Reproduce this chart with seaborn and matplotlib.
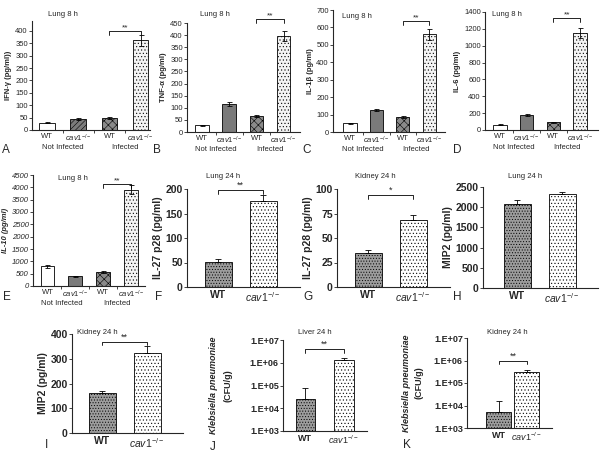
import numpy as np
import pandas as pd
import seaborn as sns
import matplotlib.pyplot as plt

sns.set_style("ticks")
plt.rcParams['font.family'] = ['Liberation Sans', 'DejaVu Sans']
plt.rcParams['hatch.linewidth'] = 0.4
plt.rcParams['mathtext.fontset'] = 'custom'
plt.rcParams['mathtext.it'] = 'Liberation Sans:italic'
plt.rcParams['mathtext.rm'] = 'Liberation Sans'
plt.rcParams['mathtext.bf'] = 'Liberation Sans:bold'

# data
groups4 = ['WT NI', 'cav1 NI', 'WT I', 'cav1 I']
groups2 = ['WT', 'cav1']
ticks4 = ['WT', r'$cav1^{-/-}$', 'WT', r'$cav1^{-/-}$']
ticks2 = ['WT', r'$cav1^{-/-}$']

ifng = [30, 45, 48, 362]
ifng_err = [3, 3, 4, 22]
tnfa = [28, 115, 65, 395]
tnfa_err = [2, 7, 4, 20]
il1b = [50, 125, 85, 560]
il1b_err = [3, 6, 5, 30]
il6 = [65, 175, 90, 1150]
il6_err = [5, 10, 6, 55]
il10 = [800, 400, 560, 3900]
il10_err = [50, 25, 30, 180]

il27_lung = [52, 175]
il27_lung_err = [6, 12]
il27_kidney = [35, 68]
il27_kidney_err = [3, 5]
mip2_lung = [2080, 2330]
mip2_lung_err = [110, 50]
mip2_kidney = [163, 322]
mip2_kidney_err = [5, 28]
kp_liver = [2.5e4, 1.3e6]
kp_liver_err = [5.5e4, 0.4e6]
kp_kidney = [5e3, 3e5]
kp_kidney_err = [1.1e4, 0.8e5]

W, H = 600, 455


def add_ax(fig, l, t, r, b):
    return fig.add_axes([l / W, 1 - b / H, (r - l) / W, (b - t) / H])


def bars(ax, cats, vals, styles, width):
    df = pd.DataFrame({'group': cats, 'value': vals})
    sns.barplot(data=df, x='group', y='value', order=cats, ax=ax, width=width,
                color='white', edgecolor='black', linewidth=0.6, errorbar=None)
    for p, (fc, hatch) in zip(ax.patches, styles):
        p.set_facecolor(fc)
        p.set_hatch(hatch)
    return [p.get_x() + p.get_width() / 2 for p in ax.patches]


def bracket(ax, x0, x1, y, ylow, text, fs):
    ax.plot([x0, x0, x1, x1], [ylow, y, y, ylow], color='black', lw=0.6,
            clip_on=False)
    ax.text((x0 + x1) / 2, y, text, ha='center', va='bottom', fontsize=fs,
            clip_on=False)


def style_ax(ax, fs, bold=False):
    sns.despine(ax=ax)
    for s in ['left', 'bottom']:
        ax.spines[s].set_linewidth(0.8)
    ax.tick_params(axis='y', length=2, width=0.6, labelsize=fs, pad=1)
    ax.tick_params(axis='x', length=0, labelsize=fs, pad=2)
    ax.set_xlabel('')
    if bold:
        for lab in ax.get_xticklabels() + ax.get_yticklabels():
            lab.set_fontweight('bold')


fig = plt.figure(figsize=(6, 4.55), dpi=100)

top_a = [('white', ''), ('#7c7c7c', '//////'), ('#8a8a8a', 'xxxx'),
         ('#f4f4f4', '.....')]
top_b = [('white', ''), ('#7a7a7a', ''), ('#8a8a8a', 'xxxx'),
         ('#f4f4f4', '.....')]
low = [('#9c9c9c', '......'), ('white', '.....')]

# top row (A-D) and E
top_panels = [
    # vals, errs, ylabel, box, xlim, ylim, ystep, styles, bracket y, italic
    (ifng, ifng_err, 'IFN-γ (pg/ml))', (32, 21, 150, 130), (-0.48, 3.3),
     (0, 440), 50, top_a, (400, 385), False),
    (tnfa, tnfa_err, 'TNF-α (pg/ml)', (187, 23, 300, 132), (-0.55, 3.6),
     (0, 450), 50, top_b, (465, 450), False),
    (il1b, il1b_err, 'IL-1β (pg/ml)', (333, 10, 445, 132), (-0.64, 3.6),
     (0, 700), 100, top_b, (637, 615), False),
    (il6, il6_err, 'IL-6 (pg/ml)', (485, 12, 598, 130), (-0.56, 3.67),
     (0, 1400), 200, top_b, (1330, 1285), False),
    (il10, il10_err, 'IL-10 (pg/ml)', (33, 175, 145, 286), (-0.52, 3.5),
     (0, 4500), 500, top_b, (4130, 3990), True),
]
titles_top = [(63, 14), (215, 15), (357, 16), (507, 15), (73, 179)]

for (vals, errs, ylab, box, xlim, ylim, step, sty, br, ital), txy in zip(
        top_panels, titles_top):
    ax = add_ax(fig, *box)
    xs = bars(ax, groups4, vals, sty, 0.5)
    ax.errorbar(xs, vals, yerr=errs, fmt='none', ecolor='black',
                elinewidth=0.6, capsize=1.8, capthick=0.6, zorder=3)
    ax.set_xlim(*xlim)
    ax.set_ylim(*ylim)
    ax.set_yticks(np.arange(0, ylim[1] + 1, step))
    ax.set_xticks(range(4), ticks4)
    ax.set_xticks([0.5, 1.5, 2.5], minor=True)
    style_ax(ax, 5.5)
    ax.tick_params(axis='x', which='minor', length=2.5, width=0.6)
    ax.set_ylabel(ylab, fontsize=5.5, fontweight='bold', labelpad=2,
                  style='italic' if ital else 'normal')
    if ital:
        for lab in ax.get_yticklabels():
            lab.set_fontstyle('italic')
    for xc, g in [(0.5, 'Not Infected'), (2.5, 'Infected')]:
        ax.annotate(g, xy=(xc, 0), xycoords=('data', 'axes fraction'),
                    xytext=(0, -10), textcoords='offset points', ha='center',
                    va='top', fontsize=5.5)
    bracket(ax, xs[2], xs[3], br[0], br[1], '**', 6)
    fig.text(txy[0] / W, 1 - txy[1] / H, 'Lung 8 h', ha='center',
             va='center', fontsize=5.5)

# lower panels (F-K)
low_panels = [
    (il27_lung, il27_lung_err, 'IL-27 p28 (pg/ml)', (187, 189, 300, 287),
     (-0.69, 1.82), (0, 200), 50, (198, 190, '**'), 'Lung 24 h', (223, 177),
     0.6, False),
    (il27_kidney, il27_kidney_err, 'IL-27 p28 (pg/ml)', (337, 189, 450, 287),
     (-0.69, 1.82), (0, 100), 25, (94, 90, '*'), 'Kidney 24 h', (375, 177),
     0.6, False),
    (mip2_lung, mip2_lung_err, 'MIP2 (pg/ml)', (483, 187, 598, 288),
     (-0.76, 1.8), (0, 2500), 500, None, 'Lung 24 h', (525, 177), 0.6, False),
    (mip2_kidney, mip2_kidney_err, 'MIP2 (pg/ml)', (72, 334, 183, 433),
     (-0.67, 1.8), (0, 400), 100, (368, 355, '**'), 'Kidney 24 h', (97, 332),
     0.6, False),
    (kp_liver, kp_liver_err, (-0.83, -0.65), (283, 340, 367, 431),
     (-0.58, 1.6), (1e3, 1e7), None, (4e6, 2.8e6, '**'), 'Liver 24 h',
     (315, 332), 0.5, True),
    (kp_kidney, kp_kidney_err, (-0.71, -0.56), (467, 338, 552, 428),
     (-1.14, 1.9), (1e3, 1e7), None, (9.5e5, 6.8e5, '**'), 'Kidney 24 h',
     (507, 332), 0.9, True),
]

for (vals, errs, ylab, box, xlim, ylim, step, br, title, txy, bw,
     logy) in low_panels:
    ax = add_ax(fig, *box)
    if logy:
        ax.set_yscale('log')
    xs = bars(ax, groups2, vals, low, bw)
    ax.errorbar(xs, vals, yerr=[np.zeros(2), errs], fmt='none',
                ecolor='black', elinewidth=0.6, capsize=2, capthick=0.6,
                zorder=3)
    ax.set_xlim(*xlim)
    ax.set_ylim(*ylim)
    ax.set_xticks(range(2), ticks2)
    if logy:
        dec = [1e3, 1e4, 1e5, 1e6, 1e7]
        ax.set_yticks(dec, ['1.E+03', '1.E+04', '1.E+05', '1.E+06', '1.E+07'])
        ax.minorticks_off()
        style_ax(ax, 6.5, bold=True)
        ax.set_ylabel('')
        ax.text(ylab[0], 0.5, 'Klebsiella pneumoniae',
                transform=ax.transAxes, rotation=90, ha='center', va='center',
                fontsize=6.5, fontweight='bold', style='italic')
        ax.text(ylab[1], 0.5, '(CFU/g)', transform=ax.transAxes, rotation=90,
                ha='center', va='center', fontsize=6.5, fontweight='bold')
    else:
        ax.set_yticks(np.arange(0, ylim[1] + 1, step))
        style_ax(ax, 7.5, bold=True)
        ax.set_ylabel(ylab, fontsize=7.5, fontweight='bold', labelpad=2)
    if br is not None:
        bracket(ax, xs[0], xs[1], br[0], br[1], br[2], 6.5)
    fig.text(txy[0] / W, 1 - txy[1] / H, title, ha='center', va='center',
             fontsize=5.5)

letters = [('A', 6, 150), ('B', 157, 150), ('C', 307, 150), ('D', 457, 150),
           ('E', 7, 297), ('F', 159, 297), ('G', 308, 297), ('H', 457, 297),
           ('I', 47, 445), ('J', 213, 447), ('K', 407, 445)]
for t, x, y in letters:
    fig.text(x / W, 1 - y / H, t, ha='center', va='center', fontsize=8.5)

fig.savefig('out.png', dpi=100)
